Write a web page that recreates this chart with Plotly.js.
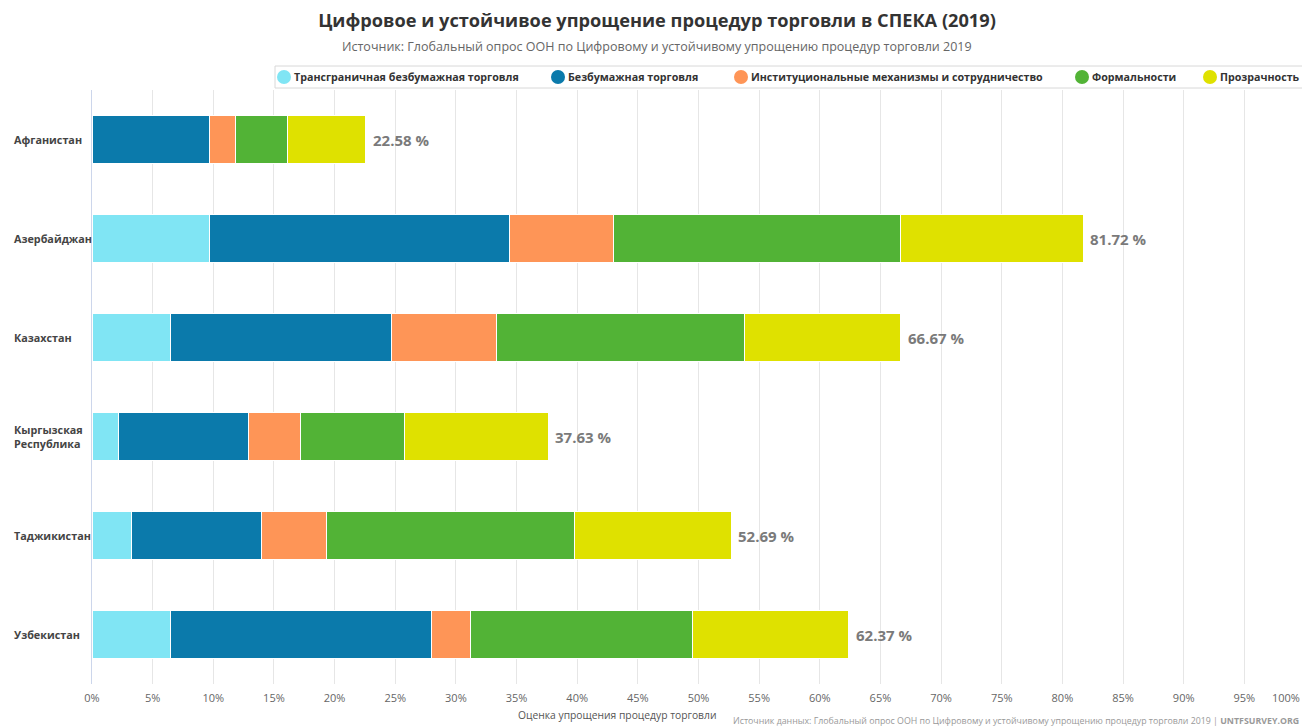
<!DOCTYPE html>
<html>
<head>
<meta charset="utf-8">
<script src="https://cdn.plot.ly/plotly-3.0.1.min.js"></script>
<style>
  body { margin: 0; background: #fff; }
  #chart { width: 1302px; height: 727px; }
</style>
</head>
<body>
<div id="chart"></div>
<script>
// countries, top to bottom
const countries = ["Афганистан", "Азербайджан", "Казахстан", "Кыргызская Республика", "Таджикистан", "Узбекистан"];
const countryLabels = ["Афганистан", "Азербайджан", "Казахстан", "Кыргызская<br>Республика", "Таджикистан", "Узбекистан"];

// segment values, % of max score
const crossBorder   = [0,    9.68,  6.45, 2.15, 3.23,  6.45];
const paperless     = [9.68, 24.73, 18.28, 10.75, 10.75, 21.51];
const institutional = [2.15, 8.60,  8.60,  4.30,  5.38,  3.23];
const formalities   = [4.30, 23.66, 20.43, 8.60,  20.43, 18.28];
const transparency  = [6.45, 15.05, 12.90, 11.83, 12.90, 12.90];
const totals        = [22.58, 81.72, 66.67, 37.63, 52.69, 62.37];

const seriesNames = ["Трансграничная безбумажная торговля", "Безбумажная торговля",
  "Институциональные механизмы и сотрудничество", "Формальности", "Прозрачность"];
const seriesColors = ["#80e5f4", "#0b7aab", "#fe9557", "#52b336", "#dfe100"];
const seriesData = [crossBorder, paperless, institutional, formalities, transparency];

const xTicks = [];
for (let i = 0; i <= 95; i += 5) xTicks.push(i);

// plot box in pixels
const L = 92, R = 1297, T = 90, B = 684;
const W = R - L, H = B - T;
const px = x => (x - L) / W;
const py = y => (B - y) / H;

let data = [];
seriesData.forEach((vals, i) => {
  data.push({
    type: "bar",
    orientation: "h",
    y: countries,
    x: vals,
    name: seriesNames[i],
    marker: { color: seriesColors[i], line: { color: "#ffffff", width: 1 } },
    hoverinfo: "x+name"
  });
});

let annotations = [];
let shapes = [];
countries.forEach((c, i) => {
  annotations.push({
    x: totals[i], y: c, xref: "x", yref: "y",
    text: totals[i].toFixed(2) + " %",
    showarrow: false, xanchor: "left", xshift: 5,
    font: { family: "Open Sans", size: 15, color: "#7a7a7a", weight: "bold" }
  });
  annotations.push({
    x: px(12), y: c, xref: "paper", yref: "y",
    text: countryLabels[i],
    showarrow: false, xanchor: "left", align: "left",
    font: { family: "Open Sans", size: 10.8, color: "#444444", weight: "bold" }
  });
});

// legend drawn by hand: box, round markers, labels
const legendDotX = [284, 558, 741, 1082, 1210];
shapes.push({
  type: "rect", xref: "paper", yref: "paper",
  x0: px(275), x1: px(1310), y0: py(88), y1: py(66),
  line: { color: "#d8d8d8", width: 1 }, fillcolor: "#ffffff"
});
seriesNames.forEach((n, i) => {
  shapes.push({
    type: "circle", xref: "paper", yref: "paper",
    x0: px(legendDotX[i] - 7), x1: px(legendDotX[i] + 7),
    y0: py(77 + 7), y1: py(77 - 7),
    line: { width: 0 }, fillcolor: seriesColors[i]
  });
  annotations.push({
    text: n, xref: "paper", yref: "paper",
    x: px(legendDotX[i] + 8), y: py(77),
    showarrow: false, xanchor: "left", yanchor: "middle",
    font: { family: "Open Sans", size: 10.7, color: "#333333", weight: "bold" }
  });
});

annotations.push({
  text: "Источник: Глобальный опрос ООН по Цифровому и устойчивому упрощению процедур торговли 2019",
  xref: "paper", yref: "paper", x: px(657), y: py(47),
  showarrow: false, xanchor: "center", yanchor: "middle",
  font: { family: "Open Sans", size: 12.5, color: "#666666" }
});
annotations.push({
  text: "Оценка упрощения процедур торговли",
  xref: "paper", yref: "paper", x: px(617), y: py(715),
  showarrow: false, xanchor: "center", yanchor: "middle",
  font: { family: "Open Sans", size: 10.3, color: "#555555" }
});
annotations.push({
  text: "100%",
  xref: "paper", yref: "paper", x: px(1302), y: py(697),
  showarrow: false, xanchor: "right", yanchor: "middle",
  font: { family: "Open Sans", size: 11, color: "#666666" }
});
annotations.push({
  text: "Источник данных: Глобальный опрос ООН по Цифровому и устойчивому упрощению процедур торговли 2019 | <b>UNTFSURVEY.ORG</b>",
  xref: "paper", yref: "paper", x: px(1301), y: py(721),
  showarrow: false, xanchor: "right", yanchor: "middle",
  font: { family: "Open Sans", size: 8.8, color: "#999999" }
});

const layout = {
  width: 1302,
  height: 727,
  paper_bgcolor: "#ffffff",
  plot_bgcolor: "#ffffff",
  barmode: "stack",
  bargap: 0.51,
  margin: { l: L, r: 1302 - R, t: T, b: 727 - B },
  title: {
    text: "<b>Цифровое и устойчивое упрощение процедур торговли в СПЕКА (2019)</b>",
    x: 657 / 1302, xanchor: "center",
    y: 1 - 21 / 727, yref: "container", yanchor: "middle",
    font: { family: "Open Sans", size: 18.2, color: "#333333" }
  },
  font: { family: "Open Sans" },
  showlegend: false,
  xaxis: {
    range: [0, W / 12.13],
    tickvals: xTicks,
    ticktext: xTicks.map(v => v + "%"),
    showgrid: true,
    gridcolor: "#e6e6e6",
    zeroline: false,
    showline: false,
    tickfont: { family: "Open Sans", size: 11, color: "#666666" },
    ticks: "",
    ticklabelstandoff: 6,
    fixedrange: true
  },
  yaxis: {
    categoryorder: "array",
    categoryarray: countries.slice().reverse(),
    showticklabels: false,
    showgrid: false,
    zeroline: false,
    showline: true,
    linecolor: "#ccd6eb",
    linewidth: 1,
    fixedrange: true
  },
  shapes: shapes,
  annotations: annotations
};

Plotly.newPlot("chart", data, layout, { displayModeBar: false });
</script>
</body>
</html>
